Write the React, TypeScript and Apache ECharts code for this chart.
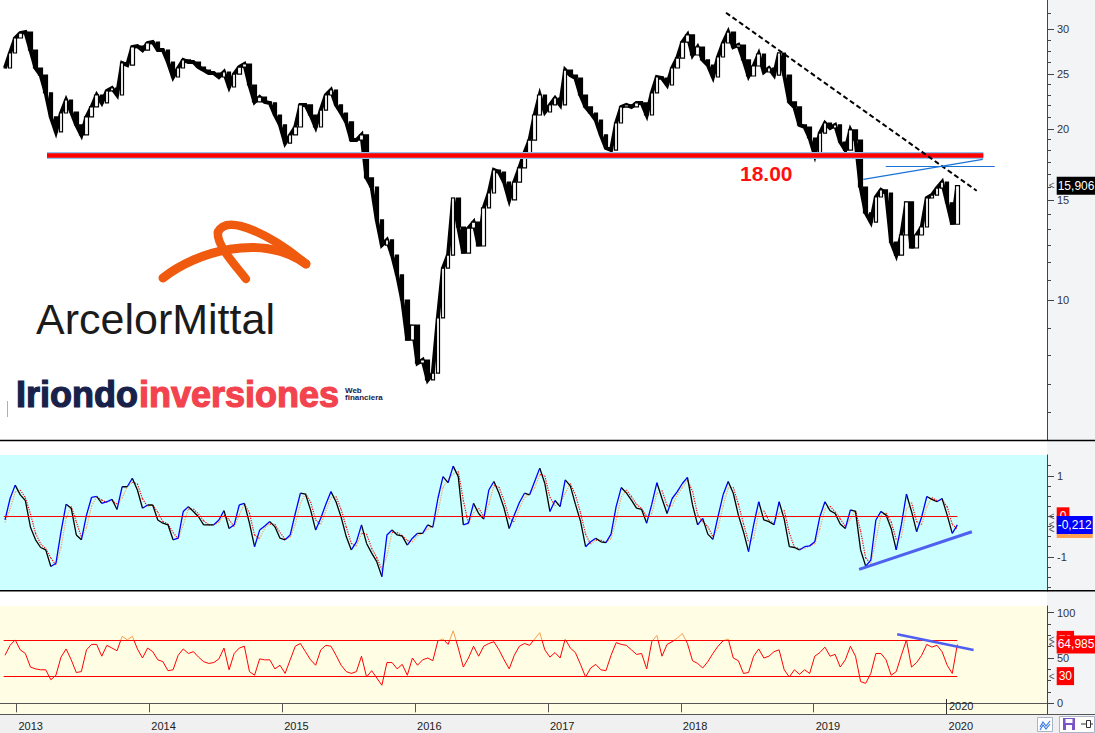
import React, { useEffect, useRef } from "react";
import * as echarts from "echarts";

// ---------------- data ----------------
// one sample every two weeks, first sample in late Nov 2012
const firstSampleYear = 2012.9134;
const sampleStepYears = 14 / 365.25;
const axisStartYear = 2012.8758;
const axisEndYear = 2020.7557;

const closePrices = [
  25.64, 27.25, 28.96, 29.55, 29.67, 27.58, 25.64, 24.92, 23.17, 21.02,
  19.78, 21.36, 22.52, 21.45, 20.35, 19.54, 21.02, 21.89, 22.98, 22.25,
  23.36, 23.64, 22.98, 26.17, 25.95, 27.92, 28.03, 27.58, 28.38, 28.49,
  27.58, 27.58, 26.27, 24.72, 25.64, 26.49, 26.27, 26.27, 25.74, 25.43,
  25.12, 25.12, 24.72, 25.23, 23.74, 25.02, 25.74, 26.06, 23.93, 22.34,
  22.79, 22.34, 22.25, 21.19, 20.35, 18.91, 19.54, 20.18, 22.07, 22.07,
  21.19, 20.18, 21.62, 22.98, 23.45, 22.07, 21.36, 20.6, 19.14, 19.14,
  19.54, 16.41, 15.82, 13.84, 12.5, 12.76, 12.0, 11.07, 10.0, 8.5,
  9.03, 7.74, 7.84, 7.23, 7.43, 9.3, 11.38, 12.0, 15.13, 13.45,
  12.1, 13.39, 13.72, 12.45, 14.53, 15.44, 16.95, 16.81, 16.14, 15.01,
  16.14, 17.09, 18.16, 19.14, 21.19, 22.98, 21.45, 22.07, 22.7, 22.07,
  25.43, 24.92, 24.62, 22.98, 21.89, 21.36, 20.76, 19.54, 18.53, 18.38,
  20.51, 21.89, 22.07, 21.89, 22.25, 22.25, 21.19, 23.17, 24.72, 24.62,
  23.93, 25.64, 26.7, 28.49, 29.32, 27.03, 27.92, 26.49, 25.95, 24.72,
  26.81, 28.38, 29.67, 27.92, 28.15, 26.49, 24.82, 25.85, 27.14, 25.23,
  25.64, 24.92, 27.25, 24.92, 22.34, 21.89, 20.35, 20.18, 19.3, 18.01,
  19.69, 20.51, 20.1, 20.35, 18.99, 18.38, 19.94, 19.14, 15.82, 14.24,
  13.72, 15.19, 15.63, 15.44, 12.65, 12.0, 13.02, 14.89, 12.35, 13.02,
  13.45, 15.13, 15.31, 15.75, 16.14, 14.84, 13.6, 15.906,
];

const oscillator = [
  -0.09, 0.44, 0.77, 0.53, 0.39, -0.27, -0.58, -0.77, -0.83, -1.24,
  -1.16, -0.38, 0.3, 0.2, -0.46, -0.58, 0.03, 0.47, 0.49, 0.32,
  0.36, 0.42, 0.17, 0.73, 0.73, 0.94, 0.65, 0.2, 0.28, 0.28,
  -0.09, -0.17, -0.21, -0.58, -0.54, 0.12, 0.24, 0.12, -0.01, -0.21,
  -0.21, -0.21, -0.09, 0.14, -0.3, -0.21, 0.28, 0.32, -0.17, -0.75,
  -0.34, -0.24, -0.13, -0.26, -0.54, -0.58, -0.46, 0.07, 0.57, 0.55,
  0.16, -0.34, -0.05, 0.3, 0.61, 0.36, -0.02, -0.5, -0.83, -0.63,
  -0.21, -0.67, -0.91, -1.12, -1.49, -0.46, -0.34, -0.46, -0.49, -0.71,
  -0.54, -0.42, -0.42, -0.21, -0.27, 0.44, 0.98, 0.83, 1.24, 0.98,
  -0.21, -0.17, 0.32, 0.07, -0.07, 0.65, 0.86, 0.57, 0.2, -0.3,
  0.03, 0.34, 0.57, 0.53, 0.86, 1.19, 0.81, 0.12, 0.39, 0.24,
  0.9, 0.75, 0.3, -0.12, -0.75, -0.63, -0.54, -0.63, -0.65, -0.44,
  0.24, 0.71, 0.58, 0.4, 0.2, 0.17, -0.17, 0.3, 0.83, 0.44,
  0.07, 0.44, 0.61, 0.81, 0.96, 0.28, -0.21, -0.05, -0.44, -0.57,
  -0.01, 0.53, 0.86, 0.57, 0.03, -0.38, -0.87, -0.21, 0.36, -0.09,
  -0.13, -0.21, 0.36, -0.07, -0.75, -0.77, -0.83, -0.75, -0.73, -0.63,
  -0.01, 0.36, 0.14, 0.07, -0.19, -0.3, 0.16, 0.12, -0.83, -1.23,
  -1.08, -0.09, 0.12, 0.03, -0.3, -0.83, -0.21, 0.55, 0.12, -0.38,
  -0.01, 0.49, 0.42, 0.36, 0.44, 0.03, -0.42, -0.212,
];

const oscSignal = [
  -0.15, 0.18, 0.6, 0.65, 0.46, 0.06, -0.42, -0.68, -0.8, -1.03,
  -1.2, -0.77, -0.04, 0.25, -0.13, -0.52, -0.28, 0.25, 0.48, 0.4,
  0.34, 0.39, 0.3, 0.45, 0.73, 0.84, 0.8, 0.43, 0.24, 0.28,
  0.1, -0.13, -0.19, -0.4, -0.56, -0.21, 0.18, 0.18, 0.06, -0.11,
  -0.21, -0.21, -0.15, 0.03, -0.08, -0.26, 0.04, 0.3, 0.08, -0.46,
  -0.55, -0.29, -0.19, -0.2, -0.4, -0.56, -0.52, -0.2, 0.32, 0.56,
  0.36, -0.09, -0.2, 0.13, 0.46, 0.49, 0.17, -0.26, -0.67, -0.73,
  -0.42, -0.44, -0.79, -1.02, -1.31, -0.98, -0.4, -0.4, -0.48, -0.6,
  -0.63, -0.48, -0.42, -0.32, -0.24, 0.09, 0.71, 0.91, 1.04, 1.11,
  0.39, -0.19, 0.08, 0.2, 0.0, 0.29, 0.76, 0.72, 0.39, -0.05,
  -0.14, 0.19, 0.46, 0.55, 0.7, 1.03, 1.0, 0.47, 0.26, 0.32,
  0.57, 0.81, 0.53, 0.09, -0.44, -0.69, -0.59, -0.59, -0.64, -0.55,
  -0.1, 0.48, 0.65, 0.49, 0.3, 0.19, 0.0, 0.07, 0.57, 0.64,
  0.26, 0.26, 0.53, 0.71, 0.89, 0.62, 0.04, -0.13, -0.25, -0.51,
  -0.29, 0.26, 0.7, 0.72, 0.3, -0.18, -0.63, -0.54, 0.08, 0.14,
  -0.11, -0.17, 0.08, 0.15, -0.41, -0.76, -0.8, -0.79, -0.74, -0.68,
  -0.32, 0.18, 0.25, 0.11, -0.06, -0.25, -0.07, 0.14, -0.36, -1.03,
  -1.16, -0.59, 0.02, 0.08, -0.14, -0.57, -0.52, 0.17, 0.34, -0.13,
  -0.2, 0.24, 0.46, 0.39, 0.4, 0.24, -0.2, -0.314,
];

const rsi = [
  53, 64, 70, 59, 55, 40, 38, 37, 37, 26,
  31, 51, 60, 48, 34, 35, 59, 65, 65, 52,
  64, 61, 58, 74, 70, 74, 60, 50, 61, 57,
  48, 46, 36, 37, 53, 60, 55, 57, 51, 46,
  44, 45, 49, 61, 37, 55, 61, 63, 35, 31,
  49, 48, 48, 38, 42, 33, 48, 63, 66, 57,
  48, 42, 59, 64, 63, 53, 42, 35, 33, 35,
  52, 29, 36, 28, 20, 45, 45, 38, 43, 31,
  50, 42, 48, 50, 47, 69, 71, 65, 80, 61,
  40, 50, 63, 52, 63, 66, 68, 59, 48, 38,
  53, 63, 66, 64, 71, 78, 59, 51, 56, 50,
  71, 61, 56, 43, 29, 39, 43, 37, 36, 53,
  67, 65, 64, 59, 54, 55, 38, 68, 75, 52,
  65, 68, 72, 77, 66, 47, 44, 39, 46, 55,
  63, 69, 71, 50, 47, 33, 34, 52, 60, 50,
  52, 57, 59, 37, 29, 37, 32, 37, 33, 52,
  56, 62, 52, 54, 40, 48, 63, 52, 24, 22,
  33, 55, 55, 48, 31, 35, 53, 70, 40, 45,
  53, 65, 62, 64, 57, 42, 33, 64.985,
];

const yearTicks = [2013, 2014, 2015, 2016, 2017, 2018, 2019, 2020];
const priceTickLabels = [10, 15, 20, 25, 30];
const priceMinorTicks = [32, 28.75, 27.5, 26.25, 24, 23, 22, 21, 19.17, 18.33, 17.5, 16.67, 15.83, 14.17, 13.33, 12.5, 11.67, 10.83, 8.9, 8, 7.1, 6.35];
const priceRange = [5.666, 33.79];
const oscRange = [-1.844, 1.514];
const oscTickLabels = [1, -1];
const oscMajorTicks = [1, 0, -1];
const oscMinorTicks = [1.25, 0.75, 0.5, 0.25, -0.25, -0.5, -0.75, -1.25, -1.5, -1.75];
const rsiRange = [-11.8, 107.4];
const rsiTickLabels = [100, 50, 0];
const rsiMinorTicks = [87.5, 75, 62.5, 37.5, 25, 12.5];
const rsiBands = [70, 30];

const supportLevel = 18;
const supportSpan = [2013.2295, 2020.2764];
const downTrend = [[2018.3398, 32.09], [2020.2267, 15.58]];
const neckLine = [[2019.5418, 17.23], [2020.362, 17.23]];
const risingLine = [[2019.3731, 16.32], [2020.2718, 17.7]];
const oscTrend = [[2019.3417, -1.309], [2020.1904, -0.38]];
const rsiTrend = [[2019.6282, 76.2], [2020.2032, 58.8]];

const lastPriceText = "15,906";
const lastOscText = "-0,212";
const lastSignalText = "-0,314";
const lastRsiText = "64,985";

// ---------------- layout ----------------
const PLOT_W = 1047;
const RSI_TOP = 606;
const RSI_H = 108;

// ---------------- helpers ----------------
const FONT = "Liberation Sans";
const t = (i: number) => firstSampleYear + i * sampleStepYears;
const ln = (p: number) => Math.log(p);

function segments(values: number[], rising: boolean) {
  const out: any[] = [];
  for (let i = 0; i < values.length - 1; i++) {
    const up = values[i + 1] > values[i];
    if (up === rising) {
      out.push([t(i), values[i]], [t(i + 1), values[i + 1]], [t(i + 1), null]);
    }
  }
  return out;
}

function seg(a: number[], b: number[], style: any) {
  return [
    { coord: [a[0], a[1]], lineStyle: style },
    { coord: [b[0], b[1]], lineStyle: style },
  ];
}

// value tag in the right-hand axis area, attached to a horizontal (invisible) line
function box(value: number, text: string, bg: string, color = "#fff", padX = 1) {
  const label = {
    show: true,
    position: "end",
    distance: 1,
    opacity: 1,
    formatter: `{a|<}{b|${text}}`,
    rich: {
      a: { color: "#555", fontSize: 10, fontFamily: FONT, padding: [0, 2, 0, 1], lineHeight: 18, opacity: 1 },
      b: {
        backgroundColor: bg,
        color,
        fontSize: 12,
        fontFamily: FONT,
        lineHeight: 18,
        height: 18,
        padding: [0, padX, 0, padX],
        opacity: 1,
      },
    },
  };
  const style = { color: "rgba(0,0,0,0)", width: 0.01, opacity: 1, type: "solid" };
  return [
    { coord: [axisStartYear + 0.001, value], lineStyle: style, label },
    { coord: [axisEndYear - 0.001, value], lineStyle: style, label },
  ];
}

function buildOption() {
  const n = closePrices.length;
  const candleData = closePrices.map((c, i) => {
    const o = ln(i ? closePrices[i - 1] : c);
    const cl = ln(c);
    return [t(i), o, cl, Math.min(o, cl), Math.max(o, cl)];
  });
  const closeLine = closePrices.map((c, i) => [t(i), ln(c)]);
  const rsiData = rsi.map((v, i) => [t(i), v]);
  const tEnd = t(n - 1);
  const tStart = t(0) - 0.01;

  // RSI line: orange above the 70 band, red below (gradient with a hard stop at 70)
  const cut = (rsiRange[1] - rsiBands[0]) / (rsiRange[1] - rsiRange[0]);
  const rsiColor = new echarts.graphic.LinearGradient(
    0, RSI_TOP, 0, RSI_TOP + RSI_H,
    [
      { offset: 0, color: "#f7a050" },
      { offset: cut, color: "#f7a050" },
      { offset: cut, color: "#ff0000" },
      { offset: 1, color: "#ff0000" },
    ],
    true
  );

  const axisText = { color: "#333", fontSize: 11, fontFamily: FONT };
  const tickColor = "#444";

  const mainYAxis = (grid: number, min: number, max: number, labels: number[], ticks: number[], fmt: any) => ({
    gridIndex: grid,
    type: "value",
    position: "right",
    min,
    max,
    axisLine: { show: true, lineStyle: { color: tickColor, width: 1 } },
    axisTick: { show: true, length: 7, customValues: ticks, lineStyle: { color: tickColor } },
    axisLabel: { show: true, customValues: labels, formatter: fmt, margin: 10, ...axisText },
    splitLine: { show: false },
  });
  const minorYAxis = (grid: number, min: number, max: number, ticks: number[]) => ({
    gridIndex: grid,
    type: "value",
    position: "right",
    min,
    max,
    axisLine: { show: false },
    axisTick: { show: true, length: 4, customValues: ticks, lineStyle: { color: tickColor } },
    axisLabel: { show: false },
    splitLine: { show: false },
  });

  const xHidden = (grid: number) => ({
    gridIndex: grid,
    type: "value",
    min: axisStartYear,
    max: axisEndYear,
    show: false,
    splitLine: { show: false },
  });

  const lnMin = ln(priceRange[0]);
  const lnMax = ln(priceRange[1]);

  const lineBase = {
    type: "line",
    symbol: "none",
    showSymbol: false,
    connectNulls: false,
    silent: true,
    xAxisIndex: 1,
    yAxisIndex: 2,
  };

  const trendStyle = { color: "#4f5ff0", width: 3, type: "solid" };

  return {
    animation: false,
    textStyle: { fontFamily: FONT },
    grid: [
      { left: 0, top: 0, width: PLOT_W, height: 440, show: false, outerBoundsMode: "none", containLabel: false },
      { left: 0, top: 455, width: PLOT_W, height: 136, show: true, backgroundColor: "#ccffff", borderWidth: 0, outerBoundsMode: "none", containLabel: false },
      { left: 0, top: RSI_TOP, width: PLOT_W, height: RSI_H, show: true, backgroundColor: "#fffde4", borderWidth: 0, outerBoundsMode: "none", containLabel: false },
    ],
    xAxis: [
      xHidden(0),
      xHidden(1),
      {
        gridIndex: 2,
        type: "value",
        min: axisStartYear,
        max: axisEndYear,
        position: "bottom",
        axisLine: { show: true, lineStyle: { color: "#555", width: 1 } },
        axisTick: { show: true, length: 9, customValues: yearTicks, lineStyle: { color: "#555" } },
        axisLabel: {
          show: true,
          customValues: yearTicks,
          formatter: (v: number) => String(Math.round(v)),
          align: "left",
          margin: 6,
          padding: [0, 0, 0, 2],
          color: "#222",
          fontSize: 11,
          fontFamily: FONT,
        },
        splitLine: { show: false },
      },
    ],
    yAxis: [
      mainYAxis(0, lnMin, lnMax, priceTickLabels.map(ln), priceTickLabels.map(ln), (v: number) => String(Math.round(Math.exp(v)))),
      minorYAxis(0, lnMin, lnMax, priceMinorTicks.map(ln)),
      mainYAxis(1, oscRange[0], oscRange[1], oscTickLabels, oscMajorTicks, (v: number) => String(v)),
      minorYAxis(1, oscRange[0], oscRange[1], oscMinorTicks),
      mainYAxis(2, rsiRange[0], rsiRange[1], rsiTickLabels, rsiTickLabels, (v: number) => String(v)),
      minorYAxis(2, rsiRange[0], rsiRange[1], rsiMinorTicks),
    ],
    series: [
      // price band (close-to-close path) under the candles
      {
        type: "line",
        xAxisIndex: 0,
        yAxisIndex: 0,
        data: closeLine,
        symbol: "none",
        showSymbol: false,
        silent: true,
        z: 1,
        lineStyle: { color: "#000", width: 4, join: "miter" },
      },
      {
        type: "candlestick",
        xAxisIndex: 0,
        yAxisIndex: 0,
        data: candleData,
        encode: { x: 0, y: [1, 2, 3, 4] },
        barWidth: 4,
        silent: true,
        z: 2,
        itemStyle: { color: "#ffffff", color0: "#000000", borderColor: "#000000", borderColor0: "#000000", borderWidth: 1.2 },
      },
      { ...lineBase, data: segments(oscSignal, false), lineStyle: { color: "#ff0000", width: 1.2, type: "dotted" }, itemStyle: { color: "#ff0000" } },
      { ...lineBase, data: segments(oscSignal, true), lineStyle: { color: "#ffa050", width: 1.2, type: "dotted" }, itemStyle: { color: "#ffa050" } },
      { ...lineBase, data: segments(oscillator, false), lineStyle: { color: "#000000", width: 1.3 }, itemStyle: { color: "#000000" }, z: 3 },
      { ...lineBase, data: segments(oscillator, true), lineStyle: { color: "#0000ff", width: 1.3 }, itemStyle: { color: "#0000ff" }, z: 4 },
      {
        type: "line",
        xAxisIndex: 2,
        yAxisIndex: 4,
        data: rsiData,
        symbol: "none",
        showSymbol: false,
        silent: true,
        lineStyle: { width: 1, color: rsiColor },
        itemStyle: { color: "#ff0000" },
      },
      // annotation carriers (price panel)
      {
        type: "line",
        xAxisIndex: 0,
        yAxisIndex: 0,
        data: [],
        silent: true,
        z: 5,
        markLine: {
          silent: true,
          symbol: ["none", "none"],
          label: { show: false },
          data: [
            seg([supportSpan[0], ln(supportLevel)], [supportSpan[1], ln(supportLevel)], { color: "#8ec2f0", width: 7, type: "solid" }),
            seg([supportSpan[0], ln(supportLevel)], [supportSpan[1], ln(supportLevel)], { color: "#ff0000", width: 4.5, type: "solid" }),
            seg([downTrend[0][0], ln(downTrend[0][1])], [downTrend[1][0], ln(downTrend[1][1])], { color: "#000", width: 2, type: [5, 3] }),
            seg([neckLine[0][0], ln(neckLine[0][1])], [neckLine[1][0], ln(neckLine[1][1])], { color: "#1a73d6", width: 1.2, type: "solid" }),
            seg([risingLine[0][0], ln(risingLine[0][1])], [risingLine[1][0], ln(risingLine[1][1])], { color: "#1a73d6", width: 1.2, type: "solid" }),
            box(ln(closePrices[n - 1]), lastPriceText, "#000000", "#ffffff", 1),
          ],
        },
      },
      // annotation carriers (oscillator panel)
      {
        type: "line",
        xAxisIndex: 1,
        yAxisIndex: 2,
        data: [],
        silent: true,
        z: 6,
        markLine: {
          silent: true,
          symbol: ["none", "none"],
          label: { show: false },
          data: [
            seg([tStart, 0], [tEnd, 0], { color: "#ff0000", width: 1, type: "solid" }),
            seg(oscTrend[0], oscTrend[1], trendStyle),
            box(0, "0", "#ff0000", "#ffffff", 3),
            box(oscSignal[n - 1], lastSignalText, "#ffa050", "#ffffff", 1),
            box(oscillator[n - 1], lastOscText, "#0000ff", "#ffffff", 1),
          ],
        },
      },
      // annotation carriers (RSI panel)
      {
        type: "line",
        xAxisIndex: 2,
        yAxisIndex: 4,
        data: [],
        silent: true,
        z: 6,
        markLine: {
          silent: true,
          symbol: ["none", "none"],
          label: { show: false },
          data: [
            seg([tStart, rsiBands[0]], [tEnd, rsiBands[0]], { color: "#ff0000", width: 1, type: "solid" }),
            seg([tStart, rsiBands[1]], [tEnd, rsiBands[1]], { color: "#ff0000", width: 1, type: "solid" }),
            seg(rsiTrend[0], rsiTrend[1], { ...trendStyle, width: 2.5 }),
            box(rsiBands[0], "70", "#ff0000", "#ffffff", 2),
            box(rsiBands[1], "30", "#ff0000", "#ffffff", 2),
            box(rsi[n - 1], lastRsiText, "#ff0000", "#ffffff", 1),
          ],
        },
      },
    ],
    graphic: [
      // panel chrome
      { type: "rect", z: -10, shape: { x: 1047, y: 0, width: 48, height: 733 }, style: { fill: "#f3f4f6" } },
      { type: "rect", z: -10, shape: { x: 0, y: 714, width: 1095, height: 19 }, style: { fill: "#f0f0f0" } },
      { type: "line", z: 50, shape: { x1: 0, y1: 440.5, x2: 1095, y2: 440.5 }, style: { stroke: "#000", lineWidth: 1.5 } },
      { type: "line", z: 50, shape: { x1: 0, y1: 590.8, x2: 1095, y2: 590.8 }, style: { stroke: "#000", lineWidth: 1.5 } },
      { type: "line", z: 50, shape: { x1: 0, y1: 714.5, x2: 1095, y2: 714.5 }, style: { stroke: "#555", lineWidth: 1 } },
      // current date marker
      { type: "line", z: 50, shape: { x1: 946.5, y1: 699, x2: 946.5, y2: 714 }, style: { stroke: "#333", lineWidth: 1 } },
      { type: "text", z: 50, x: 949, y: 706, style: { text: "2020", font: `11px "${FONT}"`, fill: "#222", verticalAlign: "middle" } },
      // level label
      { type: "text", z: 50, x: 740, y: 173, style: { text: "18.00", font: `bold 21px "${FONT}"`, fill: "#ff1010", verticalAlign: "middle" } },
      // ArcelorMittal logo
      { type: "bezierCurve", z: 40, shape: { x1: 163, y1: 278, cpx1: 195, cpy1: 252, cpx2: 262, cpy2: 232, x2: 306, y2: 264 }, style: { stroke: "#f05a0f", lineWidth: 9, fill: "none", lineCap: "round" } },
      { type: "bezierCurve", z: 40, shape: { x1: 306, y1: 264, cpx1: 275, cpy1: 238, cpx2: 228, cpy2: 212, x2: 218, y2: 232 }, style: { stroke: "#f05a0f", lineWidth: 8.5, fill: "none", lineCap: "round" } },
      { type: "bezierCurve", z: 40, shape: { x1: 218, y1: 232, cpx1: 216, cpy1: 245, cpx2: 236, cpy2: 266, x2: 246, y2: 279 }, style: { stroke: "#f05a0f", lineWidth: 8.5, fill: "none", lineCap: "round" } },
      { type: "text", z: 40, x: 36, y: 318.5, style: { text: "ArcelorMittal", font: `43px "${FONT}"`, fill: "#1b1b1b", verticalAlign: "middle" } },
      // Iriondo inversiones logo
      { type: "line", z: 40, shape: { x1: 7.5, y1: 401, x2: 7.5, y2: 417 }, style: { stroke: "#8ab8e6", lineWidth: 1 } },
      { type: "text", z: 40, x: 16, y: 394, style: { text: "Iriondo", font: `bold 36px "${FONT}"`, fill: "#17214a", stroke: "#17214a", lineWidth: 1.2, verticalAlign: "middle" } },
      { type: "text", z: 40, x: 139, y: 394, style: { text: "inversiones", font: `bold 36px "${FONT}"`, fill: "#f2434e", stroke: "#f2434e", lineWidth: 1.2, verticalAlign: "middle" } },
      { type: "text", z: 40, x: 345, y: 390.5, style: { text: "Web", font: `bold 8px "${FONT}"`, fill: "#17214a", verticalAlign: "middle" } },
      { type: "text", z: 40, x: 345, y: 397.5, style: { text: "financiera", font: `bold 8px "${FONT}"`, fill: "#17214a", verticalAlign: "middle" } },
      // bottom-right buttons
      { type: "rect", z: 50, shape: { x: 1037.5, y: 717.5, width: 15, height: 14 }, style: { fill: "#ffffff", stroke: "#a9b4c8", lineWidth: 1 } },
      { type: "polyline", z: 51, shape: { points: [[1040, 727], [1043, 722], [1046, 726], [1050, 721]] }, style: { stroke: "#3b7de0", lineWidth: 1.2, fill: "none" } },
      { type: "polyline", z: 51, shape: { points: [[1040, 730], [1043, 725], [1046, 729], [1050, 724]] }, style: { stroke: "#3b7de0", lineWidth: 1.2, fill: "none" } },
      { type: "rect", z: 50, shape: { x: 1059.5, y: 716.5, width: 35, height: 16 }, style: { fill: "#ffffff", stroke: "#a9b4c8", lineWidth: 1 } },
      { type: "rect", z: 51, shape: { x: 1063, y: 718, width: 12, height: 12 }, style: { fill: "#7a55c8" } },
      { type: "rect", z: 52, shape: { x: 1065.5, y: 719, width: 7, height: 4 }, style: { fill: "#ffffff" } },
      { type: "rect", z: 52, shape: { x: 1066, y: 725, width: 6, height: 5 }, style: { fill: "#ffffff" } },
      { type: "line", z: 51, shape: { x1: 1081, y1: 724, x2: 1086, y2: 724 }, style: { stroke: "#333", lineWidth: 1 } },
      { type: "rect", z: 51, shape: { x: 1086.5, y: 720.5, width: 4, height: 7 }, style: { fill: "none", stroke: "#333", lineWidth: 1 } },
      { type: "line", z: 51, shape: { x1: 1090.5, y1: 724, x2: 1093, y2: 724 }, style: { stroke: "#333", lineWidth: 1 } },
    ],
  };
}

export default function App() {
  const ref = useRef<HTMLDivElement>(null);
  useEffect(() => {
    document.body.style.margin = "0";
    if (!ref.current) return;
    const chart = echarts.init(ref.current, undefined, { renderer: "svg" });
    chart.setOption(buildOption() as any);
    return () => chart.dispose();
  }, []);
  return (
    <div
      ref={ref}
      style={{ position: "fixed", left: 0, top: 0, width: 1095, height: 733, background: "#ffffff" }}
    />
  );
}
